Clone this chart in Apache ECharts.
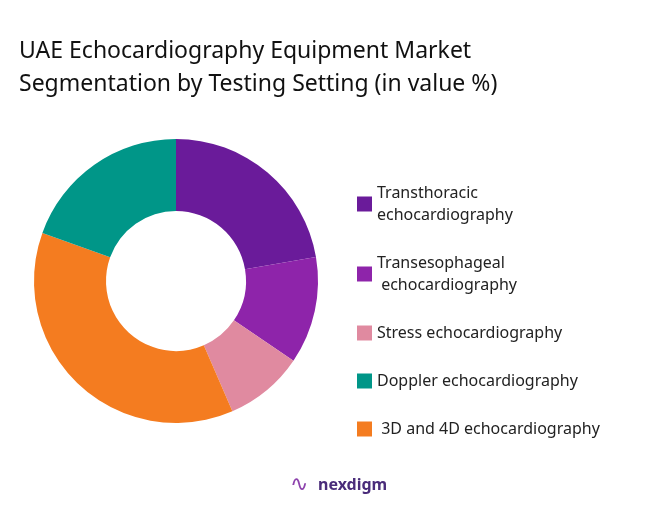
<!DOCTYPE html>
<html>
<head>
<meta charset="utf-8">
<script src="https://cdn.jsdelivr.net/npm/echarts@6/dist/echarts.min.js"></script>
<style>
html, body { margin: 0; padding: 0; background: #fff; }
#chart-container { width: 669px; height: 507px; }
</style>
</head>
<body>
<div id="chart-container"></div>
<script>
// slices in drawing order (clockwise from top)
const sliceNames = [
	'Transthoracic\nechocardiography',
	'Transesophageal\n echocardiography',
	'Stress echocardiography',
	' 3D and 4D echocardiography',
	'Doppler echocardiography',
];
const sliceValues = [22.3, 12.2, 9, 37, 19.5];
const sliceColors = ['#6A1B9A', '#8E24AA', '#E08AA0', '#F47C20', '#009688'];
const legendOrder = [0, 1, 2, 4, 3];

let dom = document.getElementById('chart-container');
let myChart = echarts.init(dom, null, { renderer: 'canvas' });

let option = {
	title: {
		text: 'UAE Echocardiography Equipment Market\nSegmentation by Testing Setting (in value %)',
		left: 14,
		top: 30,
		textStyle: {
			fontFamily: 'Noto Sans',
			fontWeight: 'normal',
			fontSize: 23,
			lineHeight: 33,
			color: '#111',
		},
	},
	legend: {
		orient: 'vertical',
		left: 352,
		top: 177,
		itemWidth: 15,
		itemHeight: 15,
		itemGap: 26,
		icon: 'rect',
		data: legendOrder.map(i => sliceNames[i]),
		textStyle: {
			fontFamily: 'Noto Sans',
			fontSize: 16,
			lineHeight: 22,
			color: '#222',
		},
	},
	graphic: [
		{
			type: 'text',
			left: 318,
			top: 477,
			style: {
				text: 'nexdigm',
				fontFamily: 'Noto Sans',
				fontWeight: 'bold',
				fontSize: 16,
				fill: '#4A2C7A',
			},
		},
		{
			type: 'text',
			left: 290,
			top: 474,
			style: { text: '∿', fontSize: 22, fill: '#8E44AD' },
		},
	],
	series: [
		{
			type: 'pie',
			center: [176, 281],
			radius: [70, 142],
			startAngle: 90,
			clockwise: true,
			label: { show: false },
			labelLine: { show: false },
			data: sliceNames.map((n, i) => ({
				name: n,
				value: sliceValues[i],
				itemStyle: { color: sliceColors[i] },
			})),
		},
	],
};

myChart.setOption(option);
window.addEventListener('resize', myChart.resize);
</script>
</body>
</html>
